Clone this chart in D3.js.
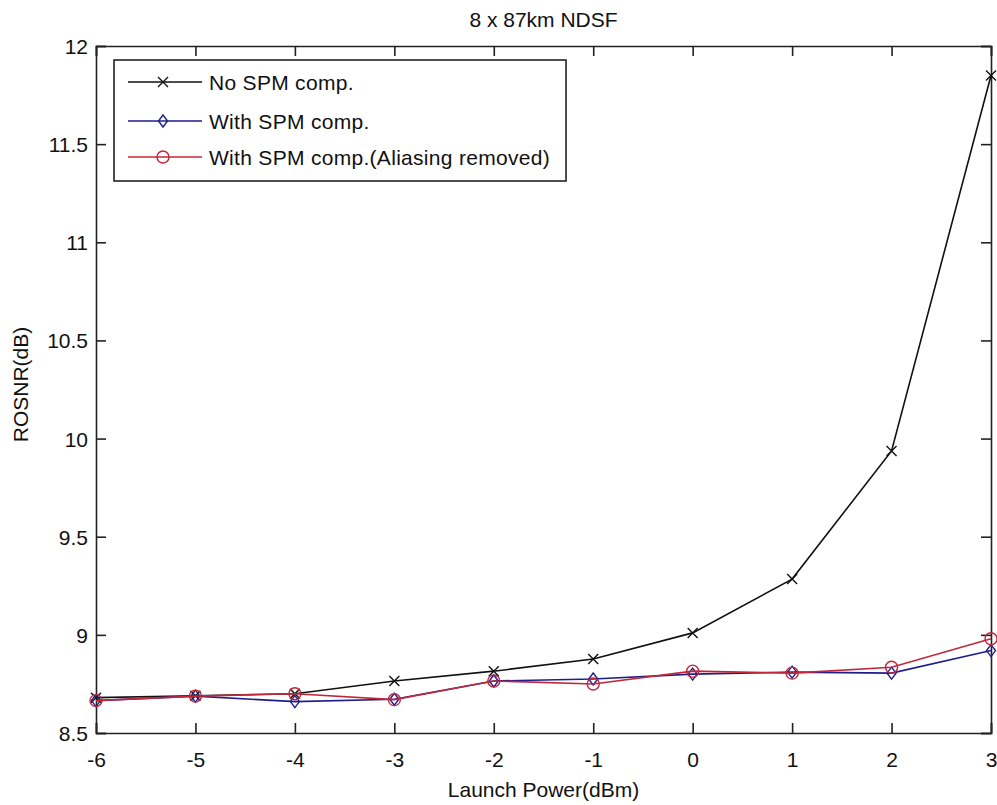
<!DOCTYPE html>
<html>
<head>
<meta charset="utf-8">
<script src="https://cdn.jsdelivr.net/npm/d3@7"></script>
<style>
  body { margin: 0; background: #fff; }
  text { font-family: "Liberation Sans", Arial, sans-serif; fill: #111; }
</style>
</head>
<body>
<div id="chart"></div>
<script>
// launch power (dBm)
const powers = [-6, -5, -4, -3, -2, -1, 0, 1, 2, 3];
const noSpm = [8.68, 8.69, 8.70, 8.765, 8.815, 8.877, 9.01, 9.284, 9.937, 11.85];
const withSpm = [8.665, 8.688, 8.66, 8.672, 8.765, 8.775, 8.80, 8.81, 8.805, 8.92];
const withSpmNoAlias = [8.665, 8.688, 8.70, 8.67, 8.765, 8.75, 8.815, 8.805, 8.835, 8.98];
const seriesNames = ["No SPM comp.", "With SPM comp.", "With SPM comp.(Aliasing removed)"];
const xTicks = [-6, -5, -4, -3, -2, -1, 0, 1, 2, 3];
const yTicks = [8.5, 9, 9.5, 10, 10.5, 11, 11.5, 12];

const W = 997, H = 805;
const margin = {top: 46, right: 6, bottom: 72, left: 96};
const width = W - margin.left - margin.right;
const height = H - margin.top - margin.bottom;
const fs = 21;

const svg = d3.select("#chart").append("svg")
    .attr("width", W)
    .attr("height", H)
    .append("g")
    .attr("transform", "translate(" + margin.left + "," + margin.top + ")");

const x = d3.scaleLinear().domain([-6, 3]).range([0, width]);
const y = d3.scaleLinear().domain([8.5, 12]).range([height, 0]);

// axes, ticks inward on all four sides
const tickLen = 10;
svg.append("g")
    .attr("transform", `translate(0, ${height})`)
    .call(d3.axisBottom(x).tickValues(xTicks).tickSize(-tickLen).tickPadding(19).tickFormat(d => String(d)))
    .call(g => g.selectAll("text").style("font-size", fs + "px"));
svg.append("g")
    .call(d3.axisTop(x).tickValues(xTicks).tickSize(-tickLen).tickFormat(""));
svg.append("g")
    .call(d3.axisLeft(y).tickValues(yTicks).tickSize(-tickLen).tickPadding(8).tickFormat(d => String(d)))
    .call(g => g.selectAll("text").style("font-size", fs + "px").attr("dy", "0.36em"));
svg.append("g")
    .attr("transform", `translate(${width}, 0)`)
    .call(d3.axisRight(y).tickValues(yTicks).tickSize(-tickLen).tickFormat(""));

svg.selectAll(".domain").attr("stroke", "#222").attr("stroke-width", 1.6);
svg.selectAll(".tick line").attr("stroke", "#222").attr("stroke-width", 1.6);

// title and labels
svg.append("text")
    .attr("x", width / 2)
    .attr("y", -19)
    .attr("text-anchor", "middle")
    .style("font-size", fs + "px")
    .text("8 x 87km NDSF");

svg.append("text")
    .attr("x", width / 2)
    .attr("y", height + 64)
    .attr("text-anchor", "middle")
    .style("font-size", fs + "px")
    .text("Launch Power(dBm)");

svg.append("text")
    .attr("transform", `translate(${-68}, ${height / 2 - 5}) rotate(-90)`)
    .attr("text-anchor", "middle")
    .style("font-size", fs + "px")
    .text("ROSNR(dB)");

const colors = ["#111111", "#1e1e8c", "#c0283a"];
const data = [noSpm, withSpm, withSpmNoAlias];

const line = d3.line()
    .x((d, i) => x(powers[i]))
    .y(d => y(d));

function drawMarker(g, k, cx, cy) {
    if (k === 0) {
        const s = 5;
        g.append("path")
            .attr("d", `M${cx - s},${cy - s}L${cx + s},${cy + s}M${cx - s},${cy + s}L${cx + s},${cy - s}`)
            .attr("stroke", colors[k]).attr("stroke-width", 1.4).attr("fill", "none");
    } else if (k === 1) {
        const s = 6;
        g.append("path")
            .attr("d", `M${cx},${cy - s}L${cx + s * 0.75},${cy}L${cx},${cy + s}L${cx - s * 0.75},${cy}Z`)
            .attr("stroke", colors[k]).attr("stroke-width", 1.4).attr("fill", "none");
    } else {
        g.append("circle")
            .attr("cx", cx).attr("cy", cy).attr("r", 6)
            .attr("stroke", colors[k]).attr("stroke-width", 1.4).attr("fill", "none");
    }
}

data.forEach((vals, k) => {
    svg.append("path")
        .attr("d", line(vals))
        .attr("stroke", colors[k])
        .attr("stroke-width", 1.6)
        .attr("fill", "none");
    const mg = svg.append("g");
    vals.forEach((v, i) => drawMarker(mg, k, x(powers[i]), y(v)));
});

// legend
const leg = svg.append("g").attr("transform", `translate(${114 - margin.left}, ${60 - margin.top})`);
const legBox = leg.append("rect")
    .attr("fill", "#fff")
    .attr("stroke", "#222")
    .attr("stroke-width", 1.6)
    .attr("height", 121);
let maxW = 0;
seriesNames.forEach((name, k) => {
    const ry = [22, 61, 97][k];
    leg.append("line")
        .attr("x1", 14).attr("x2", 88)
        .attr("y1", ry).attr("y2", ry)
        .attr("stroke", colors[k]).attr("stroke-width", 1.6);
    drawMarker(leg, k, 49, ry);
    const t = leg.append("text")
        .attr("x", 95)
        .attr("y", ry + 8)
        .style("font-size", fs + "px")
        .style("letter-spacing", "0.3px")
        .text(name);
    maxW = Math.max(maxW, t.node().getComputedTextLength());
});
legBox.attr("width", 95 + maxW + 16);
</script>
</body>
</html>
